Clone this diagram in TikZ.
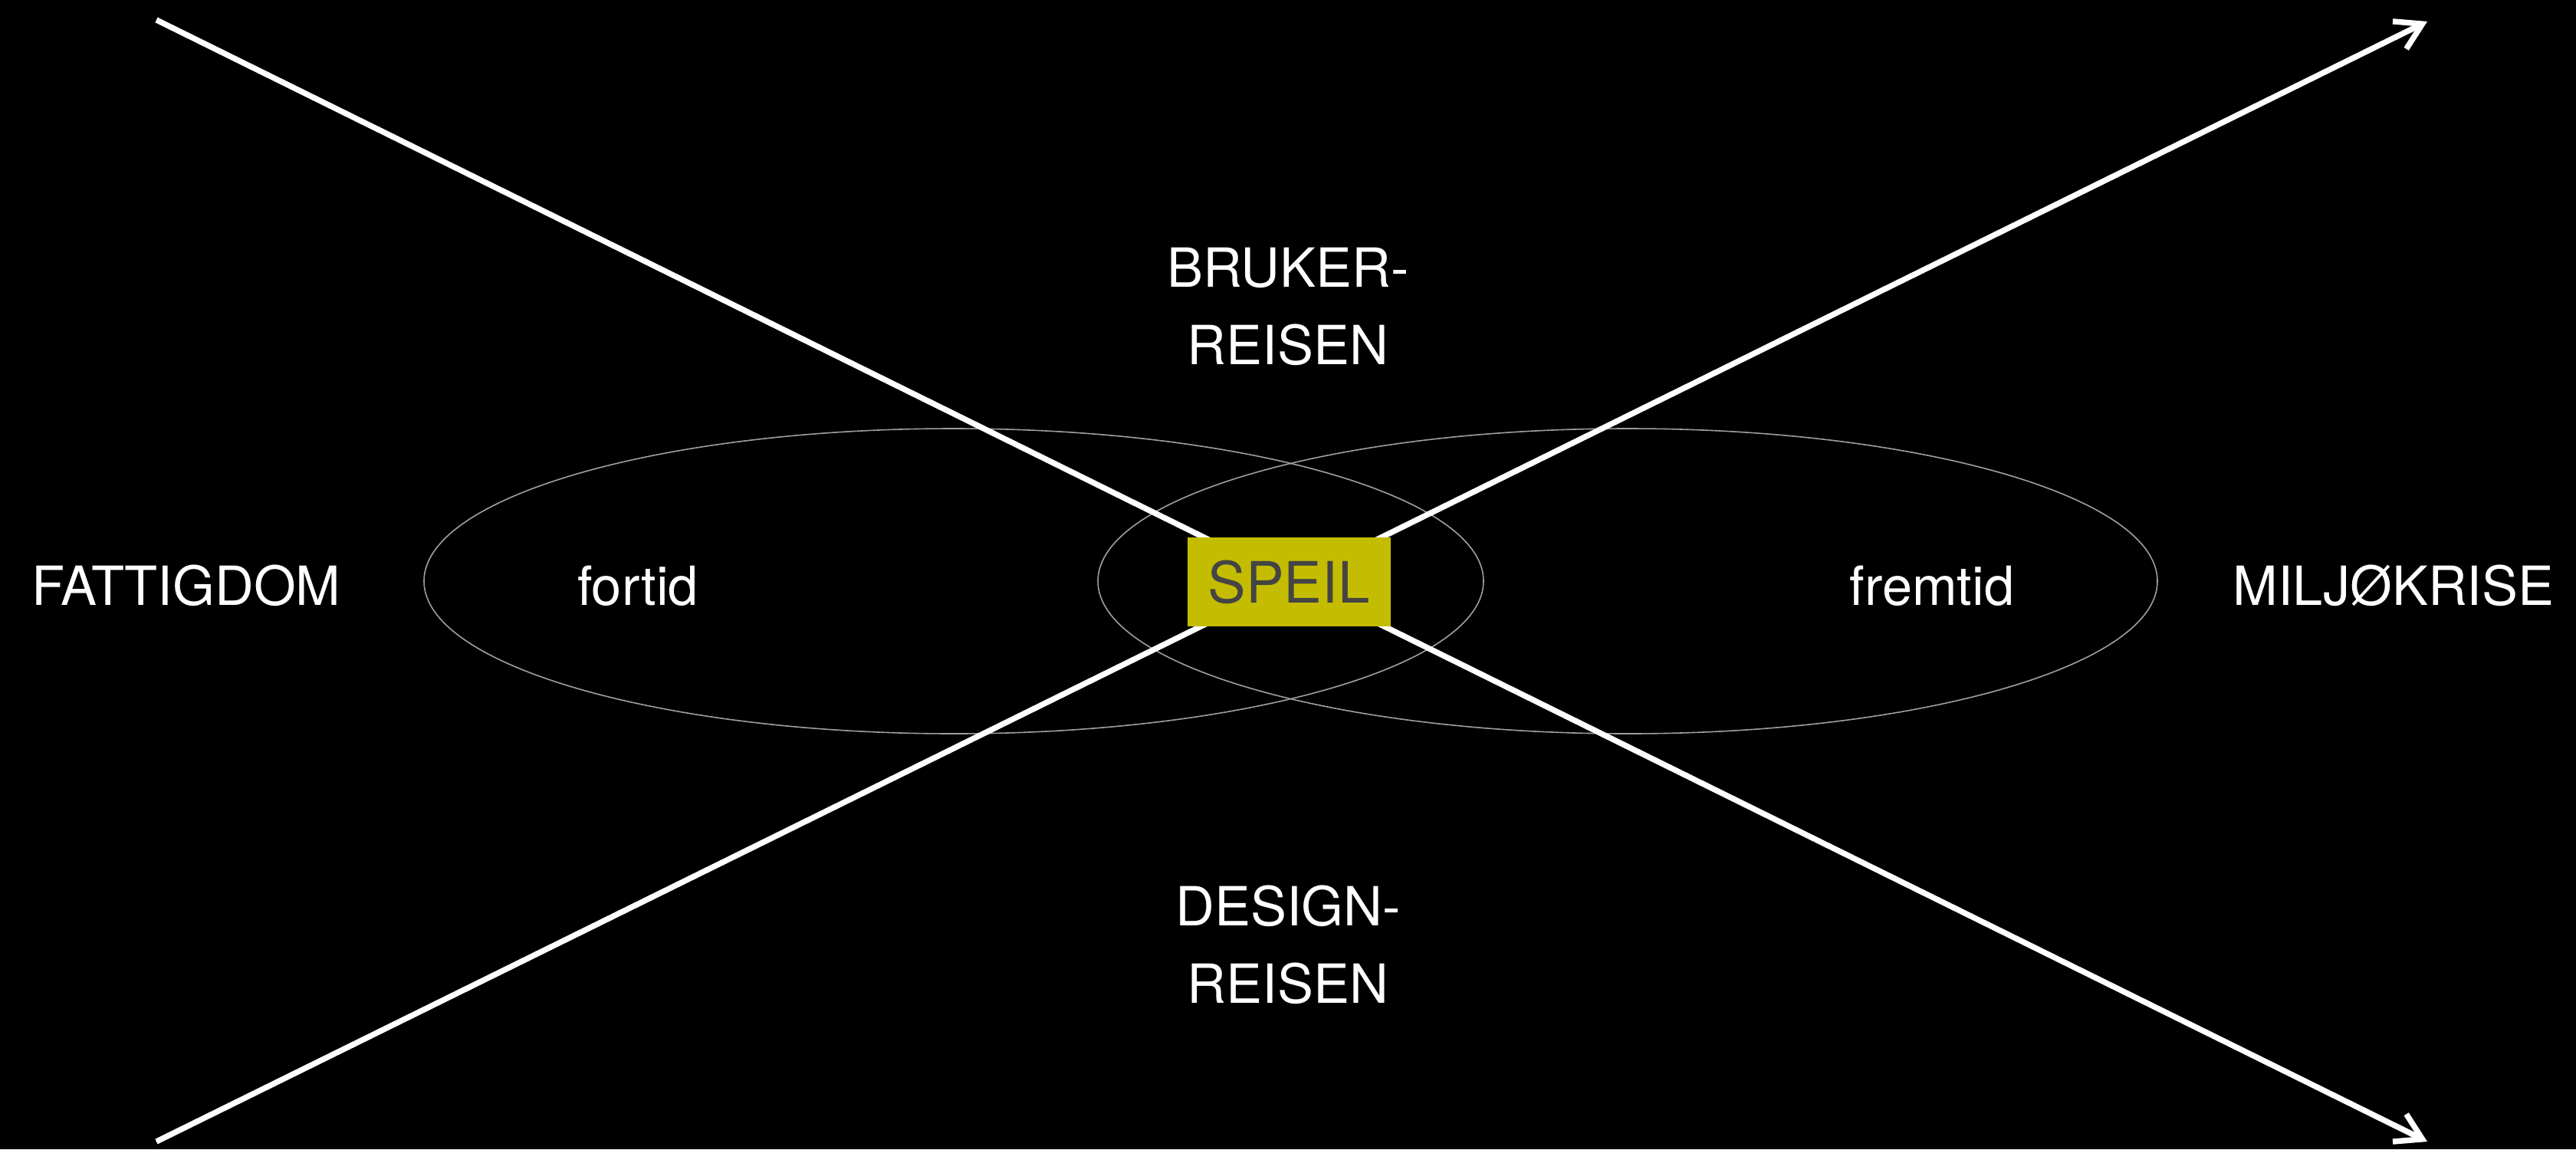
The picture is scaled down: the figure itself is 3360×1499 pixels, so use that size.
\documentclass[tikz,border=0pt]{standalone}
\usepackage{fontspec}
\setmainfont{TeX Gyre Heros}
\usetikzlibrary{arrows.meta}

\definecolor{speilgul}{RGB}{196,188,0}
\definecolor{speiltekst}{RGB}{68,68,68}

\tikzset{
  pil/.style={white, line width=1.85pt, -{Straight Barb[length=8.3pt, width=10pt]}},
  tid/.style={draw=gray!75, line width=0.4pt},
  etikett/.style={text=white, font=\fontsize{17.6}{25.25}\selectfont, align=center, inner sep=0pt},
  speilboks/.style={fill=speilgul, text=speiltekst, font=\fontsize{18.6}{24}\selectfont,
    minimum width=66.25pt, minimum height=29pt, inner sep=0pt}
}

\begin{document}
\begin{tikzpicture}[x=0.25pt, y=0.25pt, yscale=-1]
\fill[black] (0, 0) rectangle (3360, 1499);
%Ellipses
\draw [tid](1244, 758) ellipse (691 and 199);
\draw [tid](2123, 758) ellipse (691 and 199);
%Arrows
\coordinate (fattigtopp) at (204, 26);
\coordinate (fattigbunn) at (204, 1489);
\coordinate (miljotopp) at (3166, 28);
\coordinate (miljobunn) at (3166, 1489);
\draw [pil](fattigtopp) -- (miljobunn);
\draw [pil](fattigbunn) -- (miljotopp);
%Text
\node [speilboks] (speil) at (1681, 759) {SPEIL};
\node [etikett] (bruker) at (1680, 400) {BRUKER-\\REISEN};
\node [etikett] (design) at (1680, 1232) {DESIGN-\\REISEN};
\node [etikett] (fattigdom) at (243, 764) {FATTIGDOM};
\node [etikett] (miljokrise) at (3122, 764) {MILJØKRISE};
\node [etikett] (fortid) at (832, 764) {fortid};
\node [etikett] (fremtid) at (2520, 764) {fremtid};
\end{tikzpicture}
\end{document}
